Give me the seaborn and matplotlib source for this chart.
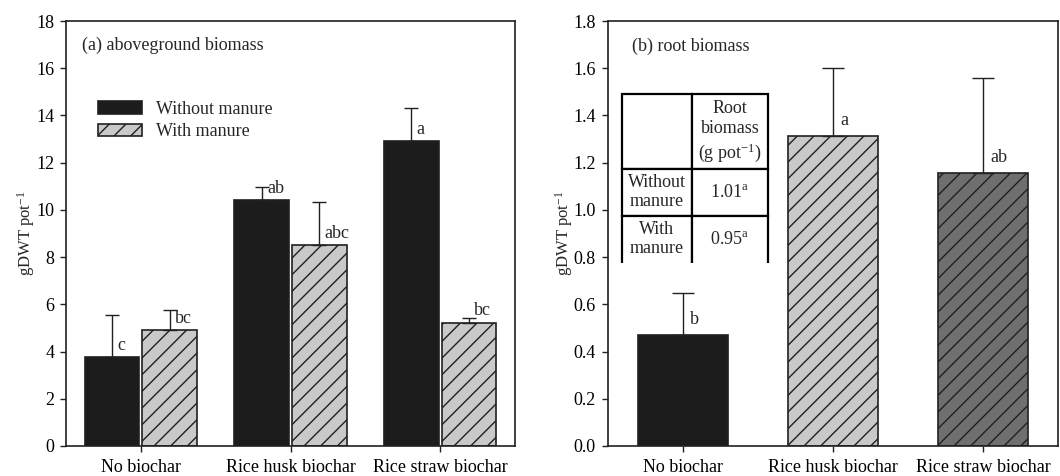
import numpy as np
import pandas as pd
import matplotlib
matplotlib.use("Agg")
import matplotlib.pyplot as plt
from matplotlib.patches import Patch
import seaborn as sns

# ---------------- data ----------------
categories = ["No biochar", "Rice husk biochar", "Rice straw biochar"]
treatments = ["Without manure", "With manure"]

above_without = [3.75, 10.40, 12.92]
above_without_err = [1.80, 0.55, 1.38]
above_with = [4.90, 8.50, 5.23]
above_with_err = [0.85, 1.83, 0.19]
above_letters_without = ["c", "ab", "a"]
above_letters_with = ["bc", "abc", "bc"]

root_values = [0.472, 1.312, 1.156]
root_err = [0.177, 0.288, 0.402]
root_letters = ["b", "a", "ab"]

table_header = ["", "Root\nbiomass\n(g pot$^{\\mathregular{-1}}$)"]
table_rows = [["Without\nmanure", "1.01$^{\\mathregular{a}}$"],
              ["With\nmanure", "0.95$^{\\mathregular{a}}$"]]

# ---------------- style ----------------
sns.set_style("ticks")
plt.rcParams["font.family"] = ["Liberation Serif", "DejaVu Serif"]
plt.rcParams["mathtext.fontset"] = "custom"
plt.rcParams["mathtext.rm"] = "Liberation Serif"
plt.rcParams["mathtext.it"] = "Liberation Serif:italic"
plt.rcParams["hatch.linewidth"] = 1.0
plt.rcParams["hatch.color"] = "#202020"

FS = 13
HATCH = "//"
C_BLACK = "#1c1c1c"
C_LIGHT = "#c9c9c9"
C_DARK = "#6f6f6f"
EDGE = "#202020"

fig = plt.figure(figsize=(10.6, 4.76), dpi=100)
ax1 = fig.add_axes([66 / 1060, 30 / 476, 449 / 1060, 425 / 476])
ax2 = fig.add_axes([607.5 / 1060, 30 / 476, 450.5 / 1060, 425 / 476])

# ---------------- panel (a) ----------------
df_a = pd.DataFrame({
    "biochar": categories * 2,
    "manure": [treatments[0]] * 3 + [treatments[1]] * 3,
    "value": above_without + above_with,
})
sns.barplot(data=df_a, x="biochar", y="value", hue="manure",
            hue_order=treatments, order=categories,
            palette=[C_BLACK, C_LIGHT], width=0.77, gap=0.05,
            edgecolor=EDGE, linewidth=1.2, errorbar=None,
            legend=False, ax=ax1)

errs_a = [above_without_err, above_with_err]
vals_a = [above_without, above_with]
lets_a = [above_letters_without, above_letters_with]
bars_a = sorted([p for p in ax1.patches if p.get_height() > 0],
                key=lambda p: p.get_x())
xs_a = [[], []]
ys_a = [[], []]
for idx, bar in enumerate(bars_a):
    j, k = idx // 2, idx % 2
    if k == 1:
        bar.set_hatch(HATCH)
    xc = bar.get_x() + bar.get_width() / 2
    xs_a[k].append(xc)
    ys_a[k].append(bar.get_height())
    ax1.text(xc + 0.035, vals_a[k][j] + 0.5, lets_a[k][j],
             ha="left", va="center", fontsize=FS)
for k in range(2):
    ax1.errorbar(xs_a[k], ys_a[k], yerr=[np.zeros(3), errs_a[k]], fmt="none",
                 ecolor=EDGE, elinewidth=1.0, capsize=5, capthick=1.0,
                 zorder=5)

ax1.set_xlim(-0.5, 2.5)
ax1.set_ylim(0, 18)
ax1.set_yticks(np.arange(0, 19, 2))
ax1.set_xlabel("")
ax1.set_ylabel("gDWT pot$^{\\mathregular{-1}}$", fontsize=12, labelpad=-1)
ax1.text(-0.39, 16.95, "(a) aboveground biomass", fontsize=FS,
         ha="left", va="center")

handles = [Patch(facecolor=C_BLACK, edgecolor=EDGE, linewidth=1.2),
           Patch(facecolor=C_LIGHT, edgecolor=EDGE, linewidth=1.2, hatch=HATCH)]
ax1.legend(handles, treatments, loc="upper left",
           bbox_to_anchor=(0.072, 0.812), frameon=False, fontsize=FS,
           borderpad=0, borderaxespad=0, handlelength=2.4,
           handleheight=0.7, handletextpad=0.8, labelspacing=0.3)

# ---------------- panel (b) ----------------
df_b = pd.DataFrame({"biochar": categories, "value": root_values})
sns.barplot(data=df_b, x="biochar", y="value", hue="biochar",
            order=categories, hue_order=categories,
            palette=[C_BLACK, C_LIGHT, C_DARK], width=0.6,
            edgecolor=EDGE, linewidth=1.2, errorbar=None,
            legend=False, ax=ax2)

xs, ys = [], []
bars = sorted([p for p in ax2.patches if p.get_height() > 0],
              key=lambda p: p.get_x())
for j, bar in enumerate(bars):
    if j > 0:
        bar.set_hatch(HATCH)
    xc = bar.get_x() + bar.get_width() / 2
    xs.append(xc)
    ys.append(bar.get_height())
    ax2.text(xc + 0.05, root_values[j] + 0.065, root_letters[j],
             ha="left", va="center", fontsize=FS)
ax2.errorbar(xs, ys, yerr=[np.zeros(3), root_err], fmt="none",
             ecolor=EDGE, elinewidth=1.0, capsize=8, capthick=1.0,
             zorder=5)

ax2.set_xlim(-0.5, 2.5)
ax2.set_ylim(0, 1.8)
ax2.set_yticks(np.arange(0, 1.81, 0.2))
ax2.set_yticklabels([f"{v:.1f}" for v in np.arange(0, 1.81, 0.2)])
ax2.set_xlabel("")
ax2.set_ylabel("gDWT pot$^{\\mathregular{-1}}$", fontsize=12, labelpad=-1)
ax2.text(-0.34, 1.694, "(b) root biomass", fontsize=FS,
         ha="left", va="center")

# inset table
tbl = ax2.table(cellText=[table_header] + table_rows,
                cellLoc="center",
                colWidths=[0.479, 0.521],
                bbox=[0.032, 0.431, 0.324, 0.397])
tbl.auto_set_font_size(False)
tbl.set_fontsize(FS)
row_h = [0.444, 0.278, 0.278]
for (r, c), cell in tbl.get_celld().items():
    cell.set_height(row_h[r] * 0.397)
    cell.set_linewidth(1.6)
    cell.set_edgecolor("black")
    cell.set_facecolor("white")
    cell.get_text().set_fontsize(FS)
    cell.get_text().set_linespacing(1.25 if r == 0 else 1.15)
    if r == 2:
        cell.visible_edges = "LTR"

# ---------------- common axis styling ----------------
for ax in (ax1, ax2):
    for s in ax.spines.values():
        s.set_visible(True)
        s.set_linewidth(1.2)
        s.set_color("#202020")
    ax.tick_params(axis="both", direction="out", length=4.5, width=1.0,
                   labelsize=FS, colors="#202020", pad=4)
    ax.tick_params(axis="x", pad=5)
    ax.tick_params(axis="y", right=False)
    ax.tick_params(axis="x", top=False)
    for t in ax.get_xticklabels() + ax.get_yticklabels():
        t.set_color("black")

fig.savefig("out.png", dpi=100)
